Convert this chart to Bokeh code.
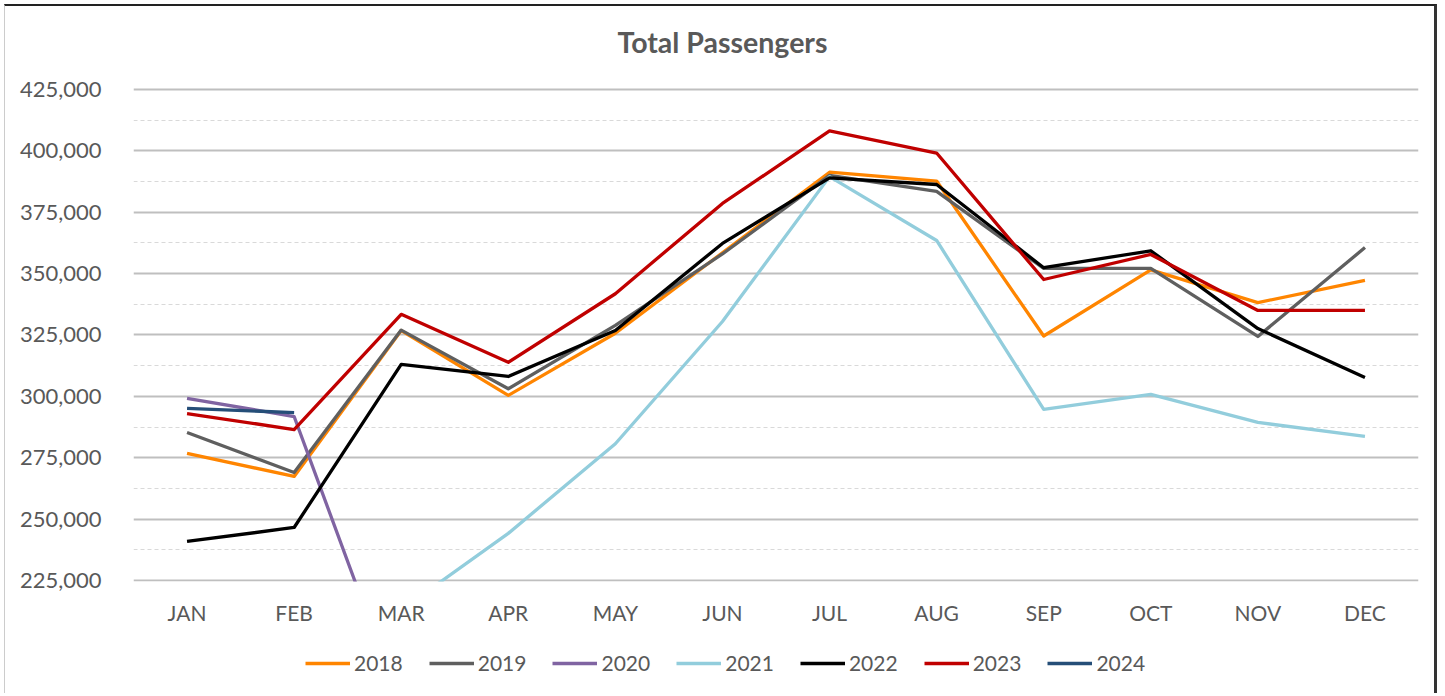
from bokeh.plotting import figure
from bokeh.layouts import column
from bokeh.models import (FactorRange, Range1d, FixedTicker, NumeralTickFormatter,
                          Legend, LegendItem, Title)
from bokeh.embed import file_html
from bokeh.resources import INLINE

months = ["JAN", "FEB", "MAR", "APR", "MAY", "JUN", "JUL", "AUG", "SEP", "OCT", "NOV", "DEC"]
years = ["2018", "2019", "2020", "2021", "2022", "2023", "2024"]

s2018 = [276800, 267400, 326800, 300400, 325700, 358500, 391300, 387700, 324600, 351500, 338200, 347200]
s2019 = [285300, 269000, 327000, 303100, 328900, 358000, 390000, 383500, 352100, 352100, 324400, 360600]
s2020 = [299200, 291800, 173700, 12000, 25000, 60000, 115000, 135000, 110000, 100000, 80000, 90000]
s2021 = [175000, 160000, 213000, 244200, 280700, 330500, 389500, 363500, 294700, 300800, 289400, 283700]
s2022 = [240900, 246600, 313000, 308100, 326800, 362300, 389000, 386300, 352400, 359300, 327600, 307700]
s2023 = [293000, 286500, 333400, 313900, 341800, 378600, 408100, 399100, 347600, 357800, 335000, 335000]
s2024 = [295100, 293400]

series = [s2018, s2019, s2020, s2021, s2022, s2023, s2024]
colors = ["#FF8500", "#5F5F5F", "#8064A2", "#92CDDC", "#000000", "#C00000", "#254E78"]

y_ticks = [225000, 250000, 275000, 300000, 325000, 350000, 375000, 400000, 425000]

TXT = "#595959"
FONT = "Lato"
LW = 3.3

# ---------------- main chart ----------------
p = figure(x_range=FactorRange(factors=months), y_range=Range1d(224600, 425800),
           width=1433, height=625, output_backend="svg", toolbar_location=None,
           min_border_left=128, min_border_right=20, min_border_top=81, min_border_bottom=50,
           background_fill_color="white", border_fill_color="white",
           styles={"margin-left": "4px", "margin-top": "4px",
                   "border-top": "2px solid #222222", "border-right": "3px solid #333333",
                   "border-left": "1px solid #CCCCCC"})
p.outline_line_color = None

p.yaxis.ticker = FixedTicker(ticks=y_ticks,
                             minor_ticks=[t + 12500 for t in y_ticks[:-1]])
p.yaxis.formatter = NumeralTickFormatter(format="0,0")
for ax in (p.xaxis[0], p.yaxis[0]):
    ax.axis_line_color = None
    ax.major_tick_line_color = None
    ax.minor_tick_line_color = None
    ax.major_label_text_font = FONT
    ax.major_label_text_color = TXT
p.xaxis.major_label_text_font_size = "21px"
p.yaxis.major_label_text_font_size = "22px"
p.xaxis.major_label_standoff = 12
p.yaxis.major_label_standoff = 26

p.xgrid.grid_line_color = None
p.ygrid.grid_line_color = "#BFBFBF"
p.ygrid.grid_line_width = 2
p.ygrid.minor_grid_line_color = "#D9D9D9"
p.ygrid.minor_grid_line_dash = "4 3"
p.ygrid.minor_grid_line_width = 1

for yr, vals, c in zip(years, series, colors):
    p.line(x=months[:len(vals)], y=vals, line_color=c, line_width=LW, line_join="round")

# spacer between frame and title
p.add_layout(Title(text=" ", text_font_size="2px", standoff=20), "above")
p.title.text = "Total Passengers"
p.title.align = "left"
p.title.offset = 484
p.title.text_font = FONT
p.title.text_font_size = "28.5px"
p.title.text_font_style = "bold"
p.title.text_color = TXT

# ---------------- legend strip ----------------
lg = figure(width=1433, height=64, output_backend="svg", toolbar_location=None,
            x_range=Range1d(0, 1), y_range=Range1d(0, 1),
            x_axis_location=None, y_axis_location=None,
            min_border_left=0, min_border_right=0, min_border_top=0, min_border_bottom=0,
            background_fill_color="white", border_fill_color="white",
            styles={"margin-left": "4px",
                    "border-right": "3px solid #333333", "border-left": "1px solid #CCCCCC"})
lg.outline_line_color = None
lg.xgrid.grid_line_color = None
lg.ygrid.grid_line_color = None

items = []
for yr, c in zip(years, colors):
    # swatch-only renderer, its points lie outside the strip's visible range
    r = lg.line(x=[5, 6], y=[5, 6], line_color=c, line_width=LW)
    items.append(LegendItem(label=yr, renderers=[r]))

legend = Legend(items=items, orientation="horizontal", location=(172, 18),
                glyph_width=45, glyph_height=20, label_standoff=4, spacing=26,
                padding=0, margin=0, border_line_color=None, background_fill_alpha=0,
                label_text_font=FONT, label_text_font_size="21px", label_text_color=TXT)
lg.add_layout(legend)

layout = column(p, lg, spacing=0)
open("out.html", "w").write(file_html(layout, INLINE))
